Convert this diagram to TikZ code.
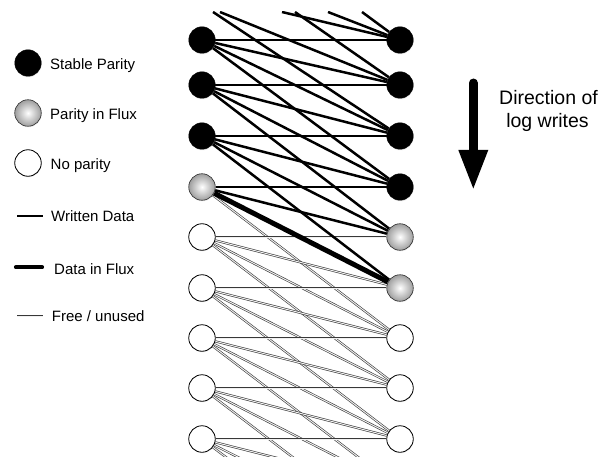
\documentclass[tikz,border=0pt]{standalone}
\usepackage{fontspec}
\setmainfont{Liberation Sans}
\usetikzlibrary{backgrounds,shadows}
\begin{document}
\begin{tikzpicture}[x=1pt,y=-1pt,
  pnode/.style={circle,minimum size=26.5pt,inner sep=0pt},
  stable/.style={pnode,fill=black,draw=black,line width=0.4pt,
    drop shadow={opacity=0.18,shadow xshift=0.4pt,shadow yshift=-1pt}},
  influxnode/.style={pnode,draw=black!85,line width=0.6pt,inner color=white,outer color=black!38,
    drop shadow={opacity=0.18,shadow xshift=0.4pt,shadow yshift=-1pt}},
  noparity/.style={pnode,draw=black,line width=0.8pt,fill=white,
    drop shadow={opacity=0.18,shadow xshift=0.4pt,shadow yshift=-1pt}},
  written/.style={line width=2.5pt,black},
  influx/.style={line width=5pt,black},
  free/.style={draw=black!78,line width=0.6pt,double=black!6,double distance=1pt},
  lbl/.style={font=\fontsize{15}{18}\selectfont,inner sep=0pt,anchor=base west},
  biglbl/.style={font=\fontsize{19.5}{22}\selectfont,inner sep=0pt,anchor=base}]
\useasboundingbox (0,0) rectangle (610,457);

% left column of parity blocks
\node[stable] (L1) at (202,40) {};
\node[stable] (L2) at (202,85) {};
\node[stable] (L3) at (202,136) {};
\node[influxnode] (L4) at (202,187) {};
\node[noparity] (L5) at (202,237) {};
\node[noparity] (L6) at (202,288) {};
\node[noparity] (L7) at (202,338) {};
\node[noparity] (L8) at (202,388) {};
\node[noparity] (L9) at (202,439) {};
% right column of parity blocks
\node[stable] (R1) at (400,40) {};
\node[stable] (R2) at (400,85) {};
\node[stable] (R3) at (400,136) {};
\node[stable] (R4) at (400,187) {};
\node[influxnode] (R5) at (400,237) {};
\node[influxnode] (R6) at (400,288) {};
\node[noparity] (R7) at (400,338) {};
\node[noparity] (R8) at (400,388) {};
\node[noparity] (R9) at (400,439) {};
% cut ends of data blocks coming from above the window
\coordinate (s1) at (213,12);
\coordinate (s2) at (220,12);
\coordinate (s3) at (282,12);
\coordinate (s4) at (295,12);
\coordinate (s5) at (328,12);
\coordinate (s6) at (362,12);
% parity blocks below the window
\coordinate (R10) at (400,489);
\coordinate (R11) at (400,539);
\coordinate (R12) at (400,589);

% data blocks: each joins a left parity to a right parity
\begin{scope}[on background layer]
  \clip (150,12) rectangle (450,457);
  \foreach \a/\b in {L4/R7,L5/R5,L5/R6,L5/R7,L5/R8,L6/R6,L6/R7,L6/R8,L6/R9,
      L7/R7,L7/R8,L7/R9,L7/R10,L8/R8,L8/R9,L8/R10,L8/R11,L9/R9,L9/R10,L9/R11,L9/R12}
    \draw[free] (\a) -- (\b);
  \foreach \a/\b in {s1/R3,s2/R2,s3/R1,s4/R2,s5/R1,s6/R1,
      L1/R1,L1/R2,L1/R3,L1/R4,L2/R2,L2/R3,L2/R4,L2/R5,
      L3/R3,L3/R4,L3/R5,L3/R6,L4/R4,L4/R5}
    \draw[written] (\a) -- (\b);
  \draw[influx] (L4) -- (R6);
\end{scope}

% legend
\node[stable] (kstable) at (28,63) {};
\node[lbl] (tstable) at (50,69.3) {Stable Parity};
\node[influxnode] (kflux) at (28,113) {};
\node[lbl] (tflux) at (50,119.3) {Parity in Flux};
\node[noparity] (knone) at (28,163) {};
\node[lbl] (tnone) at (50.5,170) {No parity};
\coordinate (kw1) at (17,216); \coordinate (kw2) at (43,216);
\draw[line width=2pt] (kw1) -- (kw2);
\node[lbl] (twritten) at (51,221) {Written Data};
\coordinate (kf1) at (16,267.3); \coordinate (kf2) at (42,267.3);
\draw[line width=4.2pt,line cap=round] (kf1) -- (kf2);
\node[lbl] (tinflux) at (54,274) {Data in Flux};
\coordinate (ku1) at (17,316); \coordinate (ku2) at (43,316);
\draw[free] (ku1) -- (ku2);
\node[lbl] (tfree) at (51.7,321.7) {Free / unused};

% direction of log writes
\coordinate (ashaft) at (473.3,83);
\coordinate (abase) at (473.3,151);
\draw[line width=9pt,line cap=round] (ashaft) -- (abase);
\fill (458.3,150) -- (488.3,150) -- (473.3,188.5) -- cycle;
\node[biglbl] (dir1) at (548.5,105) {Direction of};
\node[biglbl] (dir2) at (547.5,127.3) {log writes};
\end{tikzpicture}
\end{document}
